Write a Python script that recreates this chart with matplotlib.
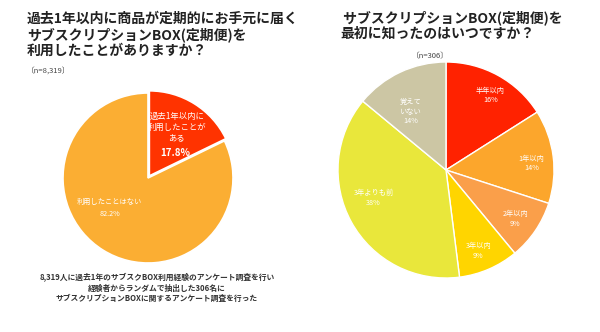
import matplotlib
matplotlib.use("Agg")
import matplotlib.pyplot as plt

plt.rcParams['font.family'] = ['Noto Sans CJK JP', 'DejaVu Sans']

# 左：過去1年以内の利用経験
use_labels = ['過去1年以内に\n利用したことが\nある', '利用したことはない']
use_pcts = ['17.8%', '82.2%']
use_values = [17.8, 82.2]
use_colors = ['#FF3300', '#FBAE33']

# 右：最初に知った時期
know_labels = ['半年以内\n16%', '1年以内\n14%', '2年以内\n9%', '3年以内\n9%', '3年よりも前\n38%', '覚えて\nいない\n14%']
know_values = [16, 14, 9, 9, 38, 14]
know_colors = ['#FF2200', '#FCA62C', '#FA9F4A', '#FFD500', '#E9E73B', '#CCC6A4']

W, H = 600, 332
fig = plt.figure(figsize=(6, 3.32), dpi=100)


def pie_axes(cx, cy, r, pad=1.08):
    h = r * pad
    ax = fig.add_axes([(cx - h) / W, (H - cy - h) / H, 2 * h / W, 2 * h / H])
    ax.set_aspect('equal')
    ax.axis('off')
    return ax


# 左の円グラフ
ax1 = pie_axes(148, 178, 85)
ax1.pie(use_values, colors=use_colors, startangle=90, counterclock=False,
        explode=[0.03, 0], radius=1,
        wedgeprops=dict(edgecolor='white', linewidth=1.2))
ax1.set_xlim(-1.08, 1.08)
ax1.set_ylim(-1.08, 1.08)
# 赤いスライス
ax1.text(0.34, 0.60, use_labels[0], ha='center', va='center', color='white',
         fontsize=6.0, linespacing=1.2)
ax1.text(0.32, 0.30, use_pcts[0], ha='center', va='center', color='white',
         fontsize=7, fontweight='bold')
# オレンジのスライス
ax1.text(-0.45, -0.35, use_labels[1] + '\n' + use_pcts[1], ha='center', va='center',
         color='white', fontsize=5.2, linespacing=1.6)

# 右の円グラフ
ax2 = pie_axes(446, 170, 108)
ax2.pie(know_values, colors=know_colors, startangle=90, counterclock=False,
        radius=1, wedgeprops=dict(edgecolor='white', linewidth=1))
ax2.set_xlim(-1.08, 1.08)
ax2.set_ylim(-1.08, 1.08)
right_pos = [(0.41, 0.69), (0.79, 0.06), (0.64, -0.45), (0.30, -0.75), (-0.67, -0.26), (-0.33, 0.54)]
for lab, (x, y) in zip(know_labels, right_pos):
    ax2.text(x, y, lab, ha='center', va='center', color='white',
             fontsize=5.2, linespacing=1.3)

# タイトル
fig.text(27 / W, 1 - 12 / H,
         '過去1年以内に商品が定期的にお手元に届く\nサブスクリプションBOX(定期便)を\n利用したことがありますか？',
         ha='left', va='top', fontsize=10, fontweight='bold', color='#222222',
         linespacing=1.12)
fig.text(27 / W, 1 - 71 / H, '〔n=8,319〕', ha='left', va='center',
         fontsize=5.5, color='#444444')

fig.text(340 / W, 1 - 10 / H, ' サブスクリプションBOX(定期便)を\n最初に知ったのはいつですか？',
         ha='left', va='top', fontsize=10, fontweight='bold', color='#222222',
         linespacing=1.15)
fig.text(430 / W, 1 - 56 / H, '〔n=306〕', ha='center', va='center',
         fontsize=5.5, color='#444444')

fig.text(157 / W, 1 - 288 / H,
         '8,319人に過去1年のサブスクBOX利用経験のアンケート調査を行い\n'
         '経験者からランダムで抽出した306名に\n'
         'サブスクリプションBOXに関するアンケート調査を行った',
         ha='center', va='center', fontsize=5.6, fontweight='bold',
         color='#333333', linespacing=1.25)

fig.savefig('out.png', dpi=100, facecolor='white')
